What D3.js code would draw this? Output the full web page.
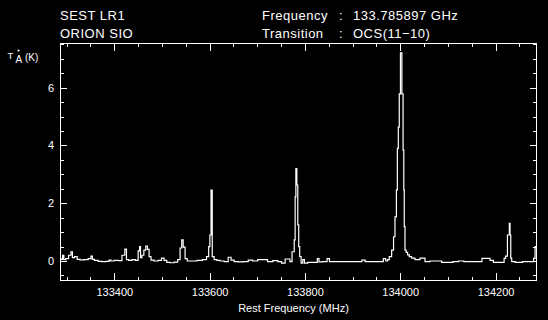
<!DOCTYPE html>
<html>
<head>
<meta charset="utf-8">
<script src="https://cdn.jsdelivr.net/npm/d3@7"></script>
<style>
  html, body { margin: 0; padding: 0; background: #000; }
  svg { display: block; }
  text { font-family: "Liberation Sans", Arial, sans-serif; fill: #fff; }
</style>
</head>
<body>
<div id="chart"></div>
<script>
// spectrum: rest frequency (MHz) and T*A (K)
var freqs = [133286, 133290, 133293, 133295, 133301, 133307, 133311, 133313, 133320, 133324,
	133332, 133341, 133349, 133353, 133355, 133362, 133370, 133378, 133387, 133391,
	133395, 133404, 133412, 133420, 133424, 133427, 133433, 133441, 133448, 133452,
	133454, 133456, 133460, 133464, 133468, 133471, 133475, 133479, 133488, 133496,
	133502, 133507, 133513, 133521, 133530, 133536, 133540, 133543, 133546, 133551,
	133555, 133567, 133580, 133590, 133597, 133599, 133602, 133604, 133607, 133612,
	133618, 133626, 133635, 133643, 133647, 133656, 133664, 133677, 133685, 133696,
	133706, 133716, 133727, 133738, 133748, 133754, 133763, 133767, 133770, 133776,
	133779, 133780, 133782, 133784, 133786, 133788, 133790, 133794, 133797, 133801,
	133811, 133825, 133827, 133832, 133843, 133850, 133853, 133874, 133895, 133916,
	133923, 133930, 133948, 133962, 133967, 133972, 133975, 133979, 133985, 133987,
	133991, 133993, 133995, 133997, 133999, 134002, 134005, 134007, 134008, 134009,
	134011, 134014, 134017, 134021, 134027, 134035, 134048, 134056, 134069, 134084,
	134090, 134105, 134116, 134128, 134139, 134158, 134185, 134192, 134199, 134216,
	134220, 134222, 134228, 134230, 134231, 134233, 134235, 134248, 134265, 134279,
	134281, 134285];
var temps = [0.09, 0.06, 0.2, 0.05, 0.08, 0.2, 0.32, 0.12, 0.15, 0.06,
	0.04, 0.05, 0.08, 0.17, 0.06, 0.02, -0.01, -0.02, -0.01, 0.03,
	0.0, 0.02, 0.01, 0.2, 0.41, 0.05, 0.02, 0.05, 0.02, 0.35,
	0.5, 0.12, 0.2, 0.38, 0.52, 0.4, 0.15, 0.03, 0.0, 0.02,
	0.1, 0.02, -0.05, -0.06, -0.04, 0.05, 0.45, 0.73, 0.48, 0.08,
	0.0, 0.0, 0.02, 0.05, 0.15, 0.5, 0.9, 2.45, 0.15, 0.05,
	0.02, 0.0, -0.02, 0.13, 0.03, -0.02, -0.03, -0.02, 0.03, 0.0,
	0.05, 0.05, -0.02, 0.01, -0.02, -0.07, 0.07, 0.07, -0.02, 0.32,
	0.73, 2.22, 3.2, 2.63, 1.25, 0.5, 0.15, -0.07, 0.05, -0.07,
	-0.05, -0.05, 0.08, -0.03, -0.02, 0.08, -0.02, -0.02, -0.02, -0.02,
	0.03, -0.02, -0.02, -0.02, 0.08, 0.0, 0.05, 0.15, 0.38, 0.84,
	1.53, 2.46, 3.9, 4.63, 5.78, 7.2, 5.78, 3.84, 2.46, 1.19,
	0.38, 0.3, 0.21, 0.15, 0.1, 0.05, 0.1, -0.02, 0.0, 0.0,
	-0.05, -0.05, -0.02, 0.0, -0.02, -0.02, 0.09, 0.02, -0.05, -0.05,
	0.09, 0.17, 0.9, 1.3, 0.9, 0.1, -0.02, -0.05, -0.02, -0.02,
	0.09, 0.5];

var xMajor = [133400, 133600, 133800, 134000, 134200];
var xMinor = d3.range(133300, 134286, 50);
var yMajor = [0, 2, 4, 6];
var yMinor = d3.range(-0.5, 7.6, 0.5);

var headerLeft = ["SEST LR1", "ORION SIO"];
var headerKeys = ["Frequency", "Transition"];
var headerVals = ["133.785897 GHz", "OCS(11\u221210)"];

var width = 548, height = 320;
var padL = 60, padR = 536.5, padT = 43.5, padB = 280;

var svg = d3.select("#chart").append("svg")
	.attr("width", width)
	.attr("height", height);

svg.append("rect")
	.attr("width", width)
	.attr("height", height)
	.attr("fill", "#000");

var x = d3.scaleLinear().domain([133286, 134286]).range([padL, padR]);
var y = d3.scaleLinear().domain([-0.657, 7.526]).range([padB, padT]);

// header lines
headerLeft.forEach(function(t, i) {
	svg.append("text").attr("x", 60).attr("y", 20 + i * 17.5)
		.attr("font-size", "13px").attr("letter-spacing", "0.5px").text(t);
});
headerKeys.forEach(function(t, i) {
	svg.append("text").attr("x", 262).attr("y", 20 + i * 17.5)
		.attr("font-size", "13px").attr("letter-spacing", "0.5px").text(t);
	svg.append("text").attr("x", 339).attr("y", 20 + i * 17.5)
		.attr("font-size", "13px").text(":");
	svg.append("text").attr("x", 353).attr("y", 20 + i * 17.5)
		.attr("font-size", "13px").attr("letter-spacing", "0.5px").text(headerVals[i]);
});

// spectrum
var pts = freqs.map(function(f, i) { return [f, temps[i]]; });
var line = d3.line()
	.x(function(d) { return x(d[0]); })
	.y(function(d) { return y(d[1]); })
	.curve(d3.curveStep);

svg.append("path")
	.datum(pts)
	.attr("fill", "none")
	.attr("stroke", "#fff")
	.attr("stroke-width", 1.2)
	.attr("d", line);

// axes, ticks pointing inward on all four sides
function addAxis(axis, tx, ty) {
	var g = svg.append("g")
		.attr("transform", "translate(" + tx + "," + ty + ")")
		.call(axis);
	g.select(".domain").remove();
	g.selectAll("line").attr("stroke", "#fff").attr("shape-rendering", "crispEdges");
	g.selectAll("text").attr("fill", "#fff")
		.attr("font-family", "Liberation Sans, Arial, sans-serif")
		.attr("font-size", "11px");
	return g;
}

addAxis(d3.axisBottom(x).tickValues(xMinor).tickSize(-3.5).tickFormat(""), 0, padB);
addAxis(d3.axisBottom(x).tickValues(xMajor).tickSize(-7).tickPadding(8).tickFormat(d3.format("d")), 0, padB);
addAxis(d3.axisTop(x).tickValues(xMinor).tickSize(-3.5).tickFormat(""), 0, padT);
addAxis(d3.axisTop(x).tickValues(xMajor).tickSize(-7).tickFormat(""), 0, padT);

addAxis(d3.axisLeft(y).tickValues(yMinor).tickSize(-3.5).tickFormat(""), padL, 0);
addAxis(d3.axisLeft(y).tickValues(yMajor).tickSize(-7).tickPadding(6).tickFormat(d3.format("d")), padL, 0);
addAxis(d3.axisRight(y).tickValues(yMinor).tickSize(-3.5).tickFormat(""), padR, 0);
addAxis(d3.axisRight(y).tickValues(yMajor).tickSize(-7).tickFormat(""), padR, 0);

svg.append("rect")
	.attr("x", padL)
	.attr("y", padT)
	.attr("width", padR - padL)
	.attr("height", padB - padT)
	.attr("fill", "none")
	.attr("stroke", "#fff")
	.attr("stroke-width", 1)
	.attr("shape-rendering", "crispEdges");

// axis titles
svg.append("text")
	.attr("x", 293.5).attr("y", 312)
	.attr("text-anchor", "middle")
	.attr("font-size", "11px")
	.text("Rest Frequency (MHz)");

svg.append("text").attr("x", 7.5).attr("y", 59).attr("font-size", "9.5px").text("T");
svg.append("text").attr("x", 15.5).attr("y", 63).attr("font-size", "10px").text("A");
svg.append("circle").attr("cx", 18.5).attr("cy", 50.5).attr("r", 1.1).attr("fill", "#fff");
svg.append("text").attr("x", 25).attr("y", 60.5).attr("font-size", "10px").text("(K)");
</script>
</body>
</html>
